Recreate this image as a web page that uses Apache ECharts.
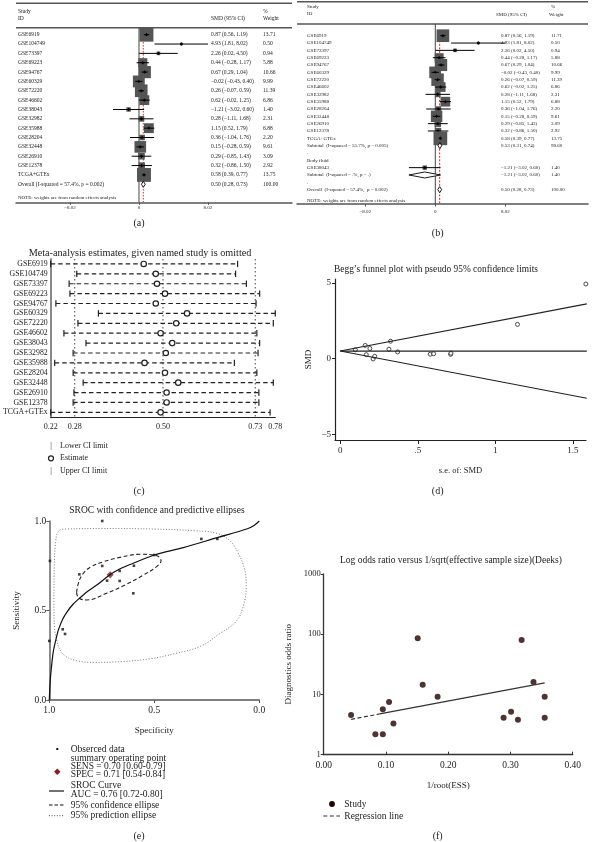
<!DOCTYPE html>
<html><head><meta charset="utf-8">
<script src="https://cdn.jsdelivr.net/npm/echarts@6/dist/echarts.min.js"></script>
<style>html,body{margin:0;padding:0;background:#fff}#c{width:592px;height:842px}</style>
</head><body><div id="c"></div>
<script>
const FF = '"Liberation Serif", "Times New Roman", serif';

// ---------- (a) forest plot, all studies ----------
const studiesA = ['GSE6919','GSE104749','GSE73397','GSE69223','GSE94767','GSE60329','GSE72220','GSE46602','GSE38043','GSE32982','GSE35988','GSE28204','GSE32448','GSE26910','GSE12378','TCGA+GTEx'];
const smdA  = [0.87, 4.93, 2.26, 0.44, 0.67, -0.02, 0.26, 0.62, -1.21, 0.28, 1.15, 0.36, 0.15, 0.29, 0.32, 0.58];
const lowA  = [0.56, 1.81, 0.02, -0.28, 0.29, -0.43, -0.07, -0.02, -3.02, -1.11, 0.52, -1.04, -0.28, -0.85, -0.86, 0.39];
const highA = [1.19, 8.02, 4.50, 1.17, 1.04, 0.40, 0.59, 1.25, 0.60, 1.68, 1.79, 1.76, 0.59, 1.43, 1.50, 0.77];
const weightA = [13.71, 0.50, 0.94, 5.88, 10.66, 9.99, 11.39, 6.86, 1.40, 2.31, 6.88, 2.20, 9.61, 3.09, 2.92, 13.75];
const pooledLabelA = ['Overall (I-squared = 57.4%, p = 0.002)'];
const pooledEstA = [0.50], pooledLowA = [0.28], pooledHighA = [0.73], pooledWeightA = [100.00];
const forestTicks = [-8.02, 0, 8.02];

// ---------- (b) forest plot by subgroup ----------
const studiesB = ['GSE6919','GSE104749','GSE73397','GSE69223','GSE94767','GSE60329','GSE72220','GSE46602','GSE32982','GSE35988','GSE28204','GSE32448','GSE26910','GSE12378','TCGA+GTEx','GSE38043'];
const smdB  = [0.87, 4.93, 2.26, 0.44, 0.67, -0.02, 0.26, 0.62, 0.28, 1.15, 0.36, 0.15, 0.29, 0.32, 0.58, -1.21];
const lowB  = [0.56, 1.81, 0.02, -0.28, 0.29, -0.43, -0.07, -0.02, -1.11, 0.52, -1.04, -0.28, -0.85, -0.86, 0.39, -3.02];
const highB = [1.19, 8.02, 4.50, 1.17, 1.04, 0.40, 0.59, 1.25, 1.68, 1.79, 1.76, 0.59, 1.43, 1.50, 0.77, 0.60];
const weightB = [11.71, 0.50, 0.94, 5.88, 10.66, 9.99, 11.39, 6.86, 2.31, 6.88, 2.20, 9.61, 3.09, 2.92, 13.75, 1.40];
const groupB = ['tissue','tissue','tissue','tissue','tissue','tissue','tissue','tissue','tissue','tissue','tissue','tissue','tissue','tissue','tissue','body'];
const pooledLabelB = ['Subtotal  (I-squared = 55.7%, p = 0.005)', 'Subtotal  (I-squared = .%, p = .)', 'Overall  (I-squared = 57.4%,  p = 0.002)'];
const pooledEstB = [0.53, -1.21, 0.50], pooledLowB = [0.31, -3.02, 0.28], pooledHighB = [0.74, 0.60, 0.73];
const pooledWeightB = [98.60, 1.40, 100.00];

// ---------- (c) leave-one-out sensitivity ----------
const studiesC = ['GSE6919','GSE104749','GSE73397','GSE69223','GSE94767','GSE60329','GSE72220','GSE46602','GSE38043','GSE32982','GSE35988','GSE28204','GSE32448','GSE26910','GSE12378','TCGA+GTEx'];
const estC  = [0.452, 0.482, 0.485, 0.505, 0.482, 0.560, 0.533, 0.494, 0.523, 0.507, 0.454, 0.505, 0.538, 0.509, 0.509, 0.494];
const lowC  = [0.220, 0.285, 0.266, 0.268, 0.233, 0.339, 0.288, 0.253, 0.308, 0.276, 0.230, 0.276, 0.301, 0.278, 0.276, 0.220];
const highC = [0.686, 0.681, 0.708, 0.741, 0.732, 0.780, 0.775, 0.734, 0.741, 0.737, 0.678, 0.734, 0.775, 0.739, 0.739, 0.767];
const ticksC = [0.22, 0.28, 0.50, 0.73, 0.78];
const refC = [0.28, 0.50, 0.73];

// ---------- (d) Begg's funnel ----------
const funnelSE  = [0.097, 0.161, 0.191, 0.168, 0.212, 0.222, 0.324, 0.314, 0.370, 0.580, 0.602, 0.712, 0.714, 1.143, 1.584];
const funnelSMD = [0.58, 0.87, 0.67, 0.26, -0.02, 0.15, 1.15, 0.62, 0.44, 0.29, 0.32, 0.28, 0.36, 2.26, 4.93];
const funnelLineSE = [0, 1.59];
const funnelUpper = [0.50, 3.62];
const funnelLower = [0.50, -2.62];
const funnelMid = [0.50, 0.50];

// ---------- (e) SROC ----------
const specObs = [0.748, 0.997, 1.000, 0.857, 0.748, 0.725, 0.665, 0.665, 0.597, 0.600, 0.276, 0.200, 0.936, 0.925, 0.500];
const sensObs = [1.000, 0.777, 0.330, 0.702, 0.749, 0.667, 0.721, 0.665, 0.750, 0.596, 0.900, 0.900, 0.395, 0.369, 0.810];
const summarySpec = [0.71], summarySens = [0.70];
const srocSpec = [1.000, 0.996, 0.990, 0.981, 0.970, 0.957, 0.937, 0.917, 0.887, 0.857, 0.820, 0.774, 0.706, 0.650, 0.600, 0.500, 0.362, 0.200, 0.060, 0.025, 0.000];
const srocSens = [0.000, 0.100, 0.180, 0.270, 0.330, 0.390, 0.450, 0.490, 0.535, 0.568, 0.605, 0.642, 0.704, 0.740, 0.764, 0.810, 0.851, 0.907, 0.955, 0.975, 1.000];
const confSpec = [0.870, 0.862, 0.840, 0.800, 0.743, 0.663, 0.568, 0.497, 0.468, 0.489, 0.552, 0.631, 0.727, 0.822, 0.860, 0.870];
const confSens = [0.600, 0.650, 0.705, 0.745, 0.772, 0.797, 0.814, 0.810, 0.778, 0.745, 0.698, 0.648, 0.596, 0.559, 0.570, 0.600];
const predSpec = [0.957, 0.975, 0.978, 0.976, 0.970, 0.955, 0.920, 0.750, 0.500, 0.300, 0.200, 0.140, 0.100, 0.070, 0.062, 0.075, 0.110, 0.190, 0.280, 0.400, 0.520, 0.650, 0.780, 0.870, 0.930, 0.957];
const predSens = [0.300, 0.400, 0.550, 0.750, 0.880, 0.945, 0.955, 0.958, 0.955, 0.945, 0.930, 0.890, 0.820, 0.730, 0.640, 0.530, 0.440, 0.370, 0.300, 0.260, 0.230, 0.215, 0.210, 0.220, 0.250, 0.300];

// ---------- (f) Deeks funnel ----------
const essX = [0.044, 0.083, 0.095, 0.095, 0.105, 0.112, 0.151, 0.159, 0.183, 0.289, 0.301, 0.312, 0.318, 0.337, 0.355, 0.355];
const dorY = [4.55, 2.18, 2.18, 5.66, 7.48, 3.31, 86, 14.5, 9.2, 4.11, 5.17, 3.8, 80, 16.1, 9.2, 4.11];
const regDashX = [0.044, 0.090], regDashY = [3.86, 4.75];
const regSolidX = [0.090, 0.355], regSolidY = [4.75, 15.6];

// ---------- helpers ----------
function fmt(v) { return (v < 0 ? '\u2212' : '') + Math.abs(v).toFixed(2); }
function ciText(e, l, h) { return fmt(e) + ' (' + fmt(l) + ', ' + fmt(h) + ')'; }
function font(sz) { return sz + 'px ' + FF; }

function studyRender(labels, weights, cols, fs, k) {
  return function (params, api) {
    const i = params.dataIndex;
    const est = api.value(0), lo = api.value(1), hi = api.value(2), row = api.value(3);
    const pE = api.coord([est, row]);
    const xL = api.coord([lo, row])[0], xH = api.coord([hi, row])[0];
    const cs = params.coordSys, y = pE[1];
    const s = k * Math.sqrt(weights[i]);
    const tstyle = (t) => ({ text: t, font: font(fs), fill: '#222', verticalAlign: 'middle' });
    return { type: 'group', children: [
      { type: 'rect', shape: { x: pE[0] - s / 2, y: y - s / 2, width: s, height: s }, style: { fill: '#555' } },
      { type: 'line', shape: { x1: xL, y1: y, x2: xH, y2: y }, style: { stroke: '#000', lineWidth: 1 } },
      { type: 'line', shape: { x1: pE[0], y1: y - 1.6, x2: pE[0], y2: y + 1.6 }, style: { stroke: '#000', lineWidth: 1 } },
      { type: 'line', shape: { x1: pE[0] - 1.4, y1: y, x2: pE[0] + 1.4, y2: y }, style: { stroke: '#000', lineWidth: 1.4 } },
      { type: 'text', x: cs.x + cols[0], y: y, style: tstyle(labels[i]) },
      { type: 'text', x: cs.x + cols[1], y: y, style: tstyle(ciText(est, lo, hi)) },
      { type: 'text', x: cs.x + cols[2], y: y, style: tstyle(weights[i].toFixed(2)) }
    ] };
  };
}
function diamondRender(labels, weights, cols, fs) {
  return function (params, api) {
    const i = params.dataIndex;
    const est = api.value(0), lo = api.value(1), hi = api.value(2), row = api.value(3);
    const pE = api.coord([est, row]);
    const xL = api.coord([lo, row])[0], xH = api.coord([hi, row])[0];
    const cs = params.coordSys, y = pE[1], h = 3;
    const tstyle = (t) => ({ text: t, font: font(fs), fill: '#222', verticalAlign: 'middle' });
    return { type: 'group', children: [
      { type: 'polygon', shape: { points: [[xL, y], [pE[0], y - h], [xH, y], [pE[0], y + h]] }, style: { fill: '#fff', stroke: '#000', lineWidth: 0.9 } },
      { type: 'text', x: cs.x + cols[0], y: y, style: tstyle(labels[i]) },
      { type: 'text', x: cs.x + cols[1], y: y, style: tstyle(ciText(est, lo, hi)) },
      { type: 'text', x: cs.x + cols[2], y: y, style: tstyle(weights[i].toFixed(2)) }
    ] };
  };
}
function vlineRender(styles) {
  return function (params, api) {
    const p1 = api.coord([api.value(0), api.value(1)]);
    const p2 = api.coord([api.value(0), api.value(2)]);
    return { type: 'line', shape: { x1: p1[0], y1: p1[1], x2: p2[0], y2: p2[1] }, style: styles[params.dataIndex] };
  };
}
function fullVline(style) {
  return function (params, api) {
    const cs = params.coordSys;
    const x = api.coord([api.value(0), 0])[0];
    return { type: 'line', shape: { x1: x, y1: cs.y, x2: x, y2: cs.y + cs.height }, style: style };
  };
}
function ciRenderC(params, api) {
  const lo = api.coord([api.value(0), api.value(3)]);
  const es = api.coord([api.value(1), api.value(3)]);
  const hi = api.coord([api.value(2), api.value(3)]);
  const y = es[1];
  const st = { stroke: '#222', lineWidth: 1.2 };
  return { type: 'group', children: [
    { type: 'line', shape: { x1: lo[0], y1: y, x2: hi[0], y2: y }, style: { stroke: '#222', lineWidth: 1.2, lineDash: [4.5, 3] } },
    { type: 'line', shape: { x1: lo[0], y1: y - 3.2, x2: lo[0], y2: y + 3.2 }, style: st },
    { type: 'line', shape: { x1: hi[0], y1: y - 3.2, x2: hi[0], y2: y + 3.2 }, style: st },
    { type: 'circle', shape: { cx: es[0], cy: y, r: 2.7 }, style: { fill: '#fff', stroke: '#222', lineWidth: 1.2 } }
  ] };
}

// row layouts: tissue rows 0..14, subtotal 15, body-fluid title 17, body study 18, subtotal 19, overall 21
const rowsA = studiesA.map((s, i) => i);
const pooledRowA = [studiesA.length];
const rowsB = groupB.map((g, i) => g === 'tissue' ? i : 18);
const pooledRowsB = [15, 19, 21];

const axisTxt = (sz) => ({ fontFamily: FF, fontSize: sz, color: '#222' });
const axLine = (w, c) => ({ show: true, onZero: false, lineStyle: { color: c || '#222', width: w || 1 } });

const chart = echarts.init(document.getElementById('c'), null, { renderer: 'canvas' });

const G = [];
function T(x, y, text, sz, align) {
  G.push({ type: 'text', x: x, y: y, style: { text: text, font: font(sz), fill: '#222', align: align || 'left', verticalAlign: 'middle' } });
}
function L(x1, y1, x2, y2, st) {
  G.push({ type: 'line', shape: { x1, y1, x2, y2 }, style: Object.assign({ stroke: '#333', lineWidth: 1 }, st || {}) });
}
// (a) headers
L(16, 3.3, 292, 3.3, { stroke: '#555', lineWidth: 1.5 });
L(16, 27.7, 292, 27.7, { stroke: '#555', lineWidth: 1.5 });
T(18, 11.7, 'Study', 5.5); T(18, 19, 'ID', 5.5);
T(211, 19, 'SMD (95% CI)', 5.5);
T(263, 11.7, '%', 5.5); T(263, 19, 'Weight', 5.5);
T(18, 197.3, 'NOTE: weights are from random effects analysis', 5);
T(139, 223, '(a)', 10, 'center');
// (b) headers
L(297, 1.7, 588, 1.7, { stroke: '#555', lineWidth: 1.5 });
L(297, 24, 588, 24, { stroke: '#555', lineWidth: 1.5 });
T(307, 6.7, 'Study', 5); T(307, 14, 'ID', 5);
T(496, 15, 'SMD (95% CI)', 5);
T(551, 7, '%', 5); T(549, 15, 'Weight', 5);
T(307, 152.7, '.', 5); T(307, 160.3, 'Body fluid', 5); T(307, 182.7, '.', 5);
T(307, 200.3, 'NOTE: weights are from random effects analysis', 5);
T(437.7, 233.3, '(b)', 10, 'center');
// (c)
T(140, 253.5, 'Meta-analysis estimates, given named study is omitted', 10.2, 'center');
T(51, 446, '|', 8, 'center'); T(60, 446, 'Lower CI limit', 8);
G.push({ type: 'circle', shape: { cx: 51, cy: 458.3, r: 2.5 }, style: { fill: '#fff', stroke: '#222', lineWidth: 1.2 } });
T(60, 458.3, 'Estimate', 8);
T(51, 470.7, '|', 8, 'center'); T(60, 470.7, 'Upper CI limit', 8);
T(139, 491, '(c)', 10, 'center');
// (d)
T(436, 269.3, 'Begg\u2019s funnel plot with pseudo 95% confidence limits', 9.4, 'center');
T(437.7, 491, '(d)', 10, 'center');
// (e)
T(157, 510, 'SROC with confidence and predictive ellipses', 9.5, 'center');
G.push({ type: 'rect', shape: { x: 56.3, y: 748, width: 2, height: 2 }, style: { fill: '#111' } });
T(70.7, 749, 'Obserced data', 9.5);
T(70.7, 758.3, 'summary operating point', 9.5);
T(70.7, 766.3, 'SENS = 0.70 [0.60-0.79]', 9.5);
G.push({ type: 'polygon', shape: { points: [[57.3, 768.5], [60.5, 771.7], [57.3, 774.9], [54.1, 771.7]] }, style: { fill: '#8b1a1a' } });
T(70.7, 774.6, 'SPEC = 0.71 [0.54-0.84]', 9.5);
T(70.7, 785.7, 'SROC Curve', 9.5);
L(49, 791, 64, 791, { stroke: '#111', lineWidth: 1.2 });
T(70.7, 794.3, 'AUC = 0.76 [0.72-0.80]', 9.5);
L(49, 805, 64, 805, { stroke: '#111', lineWidth: 1.2, lineDash: [3.5, 2] });
T(70.7, 805, '95% confidence ellipse', 9.5);
L(49, 815.7, 64, 815.7, { stroke: '#555', lineWidth: 1, lineDash: [1, 1.6] });
T(70.7, 815.7, '95% prediction ellipse', 9.5);
T(139, 836.7, '(e)', 10, 'center');
// (f)
T(451, 560, 'Log odds ratio versus 1/sqrt(effective sample size)(Deeks)', 9.5, 'center');
G.push({ type: 'circle', shape: { cx: 332, cy: 804, r: 2.9 }, style: { fill: '#220000' } });
T(344.3, 804, 'Study', 9.5);
L(323.3, 816, 340, 816, { stroke: '#333', lineWidth: 1.2, lineDash: [4, 2.5] });
T(344.3, 816, 'Regression line', 9.5);
T(437.7, 836.7, '(f)', 10, 'center');

const option = {
  backgroundColor: '#fff',
  animation: false,
  textStyle: { fontFamily: FF },
  grid: [
    { left: 16, top: 3, width: 276, height: 199.3 },
    { left: 297, top: 1.7, width: 291, height: 202.3 },
    { left: 49.3, top: 259, width: 226, height: 158.3 },
    { left: 335, top: 279, width: 251, height: 161 },
    { left: 49.3, top: 521, width: 210, height: 179 },
    { left: 323.7, top: 574, width: 249, height: 180.7 }
  ],
  xAxis: [
    { gridIndex: 0, type: 'value', min: -14.3, max: 17.79, splitLine: { show: false },
      axisLine: axLine(1.5, '#555'), axisTick: { customValues: forestTicks, length: 2.5, lineStyle: { color: '#555' } },
      axisLabel: Object.assign({ customValues: forestTicks, margin: 3, formatter: v => v === 0 ? '0' : fmt(v) }, axisTxt(5)) },
    { gridIndex: 1, type: 'value', min: -15.84, max: 17.49, splitLine: { show: false },
      axisLine: axLine(1.5, '#555'), axisTick: { customValues: forestTicks, length: 2.5, lineStyle: { color: '#555' } },
      axisLabel: Object.assign({ customValues: forestTicks, margin: 5, formatter: v => v === 0 ? '0' : fmt(v) }, axisTxt(5)) },
    { gridIndex: 2, type: 'value', min: 0.22, max: 0.78, splitLine: { show: false },
      axisLine: axLine(1.2), axisTick: { customValues: ticksC, length: 3, lineStyle: { color: '#222' } },
      axisLabel: Object.assign({ customValues: ticksC, margin: 6, formatter: v => v.toFixed(2) }, axisTxt(8)) },
    { gridIndex: 3, type: 'value', min: -0.034, max: 1.585, splitLine: { show: false },
      name: 's.e. of: SMD', nameLocation: 'middle', nameGap: 26, nameTextStyle: axisTxt(8.5),
      axisLine: axLine(1.2), axisTick: { customValues: [0, 0.5, 1, 1.5], length: 4, lineStyle: { color: '#222' } },
      axisLabel: Object.assign({ customValues: [0, 0.5, 1, 1.5], margin: 6, formatter: v => v === 0 ? '0' : (v === 0.5 ? '.5' : String(v)) }, axisTxt(9)) },
    { gridIndex: 4, type: 'value', min: 0, max: 1, inverse: true, splitLine: { show: false },
      name: 'Specificity', nameLocation: 'middle', nameGap: 26, nameTextStyle: axisTxt(9),
      axisLine: axLine(1.5, '#555'), axisTick: { customValues: [0, 0.5, 1], length: 3, lineStyle: { color: '#555' } },
      axisLabel: Object.assign({ customValues: [0, 0.5, 1], margin: 5, formatter: v => v.toFixed(1) }, axisTxt(9.5)) },
    { gridIndex: 5, type: 'value', min: 0, max: 0.4, interval: 0.1, splitLine: { show: false },
      name: '1/root(ESS)', nameLocation: 'middle', nameGap: 26, nameTextStyle: axisTxt(9),
      axisLine: axLine(1.3, '#333'), axisTick: { length: 3, inside: true, lineStyle: { color: '#333' } },
      axisLabel: Object.assign({ margin: 6, formatter: v => v.toFixed(2) }, axisTxt(9.5)) }
  ],
  yAxis: [
    { gridIndex: 0, type: 'value', inverse: true, min: -3.39, max: 17.93, show: false },
    { gridIndex: 1, type: 'value', inverse: true, min: -4.64, max: 22.96, show: false },
    { gridIndex: 2, type: 'category', inverse: true, data: studiesC,
      axisLine: axLine(2, '#888'), axisTick: { show: false },
      axisLabel: Object.assign({ margin: 3, interval: 0 }, axisTxt(7.8)) },
    { gridIndex: 3, type: 'value', min: -5.38, max: 5.26, splitLine: { show: false },
      name: 'SMD', nameLocation: 'middle', nameGap: 22, nameTextStyle: axisTxt(9),
      axisLine: axLine(1.2), axisTick: { customValues: [-5, 0, 5], length: 3, lineStyle: { color: '#222' } },
      axisLabel: Object.assign({ customValues: [-5, 0, 5], margin: 4, formatter: v => v < 0 ? '\u2212' + Math.abs(v) : String(v) }, axisTxt(9)) },
    { gridIndex: 4, type: 'value', min: 0, max: 1, splitLine: { show: false },
      name: 'Sensitivity', nameLocation: 'middle', nameGap: 28, nameTextStyle: axisTxt(9),
      axisLine: axLine(1.5, '#666'), axisTick: { customValues: [0, 0.5, 1], length: 3, lineStyle: { color: '#555' } },
      axisLabel: Object.assign({ customValues: [0, 0.5, 1], margin: 3, formatter: v => v.toFixed(1) }, axisTxt(9.5)) },
    { gridIndex: 5, type: 'log', logBase: 10, min: 1, max: 1000, splitLine: { show: false },
      name: 'Diagnostics odds ratio', nameLocation: 'middle', nameGap: 31, nameTextStyle: axisTxt(9),
      axisLine: axLine(1.3, '#333'), axisTick: { length: 3, lineStyle: { color: '#333' } }, minorTick: { show: false },
      axisLabel: Object.assign({ margin: 3, formatter: v => String(Math.round(v)) }, axisTxt(8.5)) }
  ],
  graphic: { elements: G },
  series: [
    // (a)
    { type: 'custom', xAxisIndex: 0, yAxisIndex: 0, renderItem: vlineRender([
        { stroke: '#444', lineWidth: 1 }, { stroke: '#d9271e', lineWidth: 1, lineDash: [1.5, 1.5] } ]),
      data: [[0, -0.75, 17.93], [pooledEstA[0], -0.5, 17.93]], encode: { x: 0, y: [1, 2] }, silent: true },
    { type: 'custom', xAxisIndex: 0, yAxisIndex: 0, renderItem: studyRender(studiesA, weightA, [2, 195, 247], 5.5, 3.75),
      data: studiesA.map((s, i) => [smdA[i], lowA[i], highA[i], rowsA[i]]), encode: { x: [0, 1, 2], y: 3 }, silent: true },
    { type: 'custom', xAxisIndex: 0, yAxisIndex: 0, renderItem: diamondRender(pooledLabelA, pooledWeightA, [2, 195, 247], 5.5),
      data: pooledEstA.map((e, i) => [e, pooledLowA[i], pooledHighA[i], pooledRowA[i]]), encode: { x: [0, 1, 2], y: 3 }, silent: true },
    // (b)
    { type: 'custom', xAxisIndex: 1, yAxisIndex: 1, renderItem: vlineRender([
        { stroke: '#444', lineWidth: 1 }, { stroke: '#d9271e', lineWidth: 1, lineDash: [2, 1.5] } ]),
      data: [[0, -1.6, 22.96], [pooledEstB[2], -0.8, 22.96]], encode: { x: 0, y: [1, 2] }, silent: true },
    { type: 'custom', xAxisIndex: 1, yAxisIndex: 1, renderItem: studyRender(studiesB, weightB, [10, 204, 254], 5, 3.7),
      data: studiesB.map((s, i) => [smdB[i], lowB[i], highB[i], rowsB[i]]), encode: { x: [0, 1, 2], y: 3 }, silent: true },
    { type: 'custom', xAxisIndex: 1, yAxisIndex: 1, renderItem: diamondRender(pooledLabelB, pooledWeightB, [10, 204, 254], 5),
      data: pooledEstB.map((e, i) => [e, pooledLowB[i], pooledHighB[i], pooledRowsB[i]]), encode: { x: [0, 1, 2], y: 3 }, silent: true },
    // (c)
    { type: 'custom', xAxisIndex: 2, yAxisIndex: 2, renderItem: fullVline({ stroke: '#444', lineWidth: 1, lineDash: [1.5, 2.5] }),
      data: refC.map(v => [v, 0]), encode: { x: 0, y: 1 }, silent: true },
    { type: 'custom', xAxisIndex: 2, yAxisIndex: 2, renderItem: ciRenderC,
      data: studiesC.map((s, i) => [lowC[i], estC[i], highC[i], i]), encode: { x: [0, 1, 2], y: 3 }, silent: true },
    // (d)
    { type: 'line', xAxisIndex: 3, yAxisIndex: 3, data: funnelLineSE.map((x, i) => [x, funnelUpper[i]]), symbol: 'none', lineStyle: { color: '#222', width: 1.2 }, silent: true },
    { type: 'line', xAxisIndex: 3, yAxisIndex: 3, data: funnelLineSE.map((x, i) => [x, funnelLower[i]]), symbol: 'none', lineStyle: { color: '#222', width: 1.2 }, silent: true },
    { type: 'line', xAxisIndex: 3, yAxisIndex: 3, data: funnelLineSE.map((x, i) => [x, funnelMid[i]]), symbol: 'none', lineStyle: { color: '#222', width: 1.2 }, silent: true },
    { type: 'scatter', xAxisIndex: 3, yAxisIndex: 3, data: funnelSE.map((x, i) => [x, funnelSMD[i]]), symbol: 'circle', symbolSize: 4,
      itemStyle: { color: '#fff', borderColor: '#222', borderWidth: 1 }, silent: true },
    // (e)
    { type: 'line', xAxisIndex: 4, yAxisIndex: 4, data: predSpec.map((x, i) => [x, predSens[i]]), smooth: 0.4, symbol: 'none',
      lineStyle: { color: '#777', width: 1, type: [1, 1.8] }, silent: true },
    { type: 'line', xAxisIndex: 4, yAxisIndex: 4, data: confSpec.map((x, i) => [x, confSens[i]]), smooth: 0.4, symbol: 'none',
      lineStyle: { color: '#222', width: 1.1, type: [4, 2.5] }, silent: true },
    { type: 'line', xAxisIndex: 4, yAxisIndex: 4, data: srocSpec.map((x, i) => [x, srocSens[i]]), smooth: 0.3, symbol: 'none',
      lineStyle: { color: '#111', width: 1.2 }, silent: true },
    { type: 'scatter', xAxisIndex: 4, yAxisIndex: 4, data: specObs.map((x, i) => [x, sensObs[i]]), symbol: 'rect', symbolSize: 2.6,
      itemStyle: { color: '#111' }, silent: true },
    { type: 'scatter', xAxisIndex: 4, yAxisIndex: 4, data: summarySpec.map((x, i) => [x, summarySens[i]]), symbol: 'diamond', symbolSize: 7,
      itemStyle: { color: '#8b1a1a' }, silent: true },
    // (f)
    { type: 'line', xAxisIndex: 5, yAxisIndex: 5, data: regDashX.map((x, i) => [x, regDashY[i]]), symbol: 'none',
      lineStyle: { color: '#333', width: 1.2, type: [4, 2.5] }, silent: true },
    { type: 'line', xAxisIndex: 5, yAxisIndex: 5, data: regSolidX.map((x, i) => [x, regSolidY[i]]), symbol: 'none',
      lineStyle: { color: '#333', width: 1.2 }, silent: true },
    { type: 'scatter', xAxisIndex: 5, yAxisIndex: 5, data: essX.map((x, i) => [x, dorY[i]]), symbol: 'circle', symbolSize: 6,
      itemStyle: { color: '#220000' }, silent: true }
  ]
};
chart.setOption(option);
</script></body></html>
